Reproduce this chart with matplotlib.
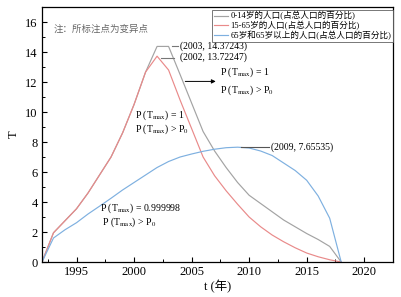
import matplotlib as mpl
import matplotlib.pyplot as plt
from matplotlib.ticker import MultipleLocator

mpl.rcParams.update(
    {
        "font.family": ["Liberation Serif", "Noto Sans CJK SC"],
        "mathtext.fontset": "stix",
        "font.size": 9,
        "xtick.direction": "in",
        "ytick.direction": "in",
        "axes.linewidth": 0.9,
    }
)

years = list(range(1992, 2019))
young = [0, 1.95, 2.75, 3.55, 4.6, 5.8, 7.0, 8.6, 10.5, 12.66, 14.37243, 14.37243,
         12.5, 10.6, 8.7, 7.4, 6.3, 5.3, 4.45, 3.9, 3.35, 2.8, 2.35, 1.9, 1.5, 1.04, 0]
working = [0, 1.95, 2.75, 3.55, 4.6, 5.8, 7.0, 8.6, 10.5, 12.66, 13.72247, 12.8,
           10.8, 8.9, 7.0, 5.75, 4.75, 3.85, 3.0, 2.35, 1.8, 1.35, 0.95, 0.6, 0.35, 0.15, 0]
elderly = [0, 1.6, 2.15, 2.62, 3.2, 3.72, 4.25, 4.8, 5.3, 5.8, 6.3, 6.7,
           7.0, 7.2, 7.38, 7.52, 7.62, 7.65535, 7.6, 7.4, 7.1, 6.6, 6.1, 5.45, 4.4, 2.92, 0]
labels = ["0-14岁的人口(占总人口的百分比)", "15-65岁的人口(占总人口的百分比)",
          "65岁和65岁以上的人口(占总人口的百分比)"]
colors = ["#a3a3a3", "#e98a8a", "#7eb0e0"]

fig = plt.figure(figsize=(4.01, 2.97), dpi=100)
ax = fig.add_axes([0.1047, 0.1178, 0.8753, 0.8586])

for series, color, label in zip([young, working, elderly], colors, labels):
    ax.plot(years, series, color=color, linewidth=0.85, label=label)

ax.set_xlim(1992, 2022.5)
ax.set_ylim(0, 17)
ax.xaxis.set_major_locator(MultipleLocator(5))
ax.xaxis.set_minor_locator(MultipleLocator(2.5))
ax.yaxis.set_major_locator(MultipleLocator(2))
ax.yaxis.set_minor_locator(MultipleLocator(1))
ax.tick_params(which="major", length=3.5, width=0.8, pad=3, labelsize=9)
ax.tick_params(which="minor", length=2, width=0.7)
ax.set_xlabel("t (年)", fontsize=9, labelpad=1)
ax.set_ylabel("T", fontsize=9, labelpad=4)

leg = ax.legend(loc="upper right", bbox_to_anchor=(1.0, 0.99), borderaxespad=0,
                fontsize=6.2, frameon=True, fancybox=False, handlelength=1.6,
                handletextpad=0.3, labelspacing=0.05, borderpad=0.2)
leg.get_frame().set_edgecolor("#555555")
leg.get_frame().set_linewidth(0.7)

ax.text(1993.0, 15.5, "注：所标注点为变异点", fontsize=6.8, color="#666666", va="center")

small = 7
ax.plot([2003.3, 2003.85], [14.37, 14.37], color="#777777", linewidth=0.8)
ax.text(2004.0, 14.37, "(2003, 14.37243)", fontsize=small, va="center")
ax.plot([2002.35, 2003.45], [13.63, 13.63], color="#777777", linewidth=0.8)
ax.text(2004.0, 13.63, "(2002, 13.72247)", fontsize=small, va="center")

ax.annotate("", xy=(2007.1, 12.04), xytext=(2004.45, 12.04),
            arrowprops=dict(arrowstyle="-|>", color="black", lw=0.7,
                            mutation_scale=6, shrinkA=0, shrinkB=0))
ax.text(2007.45, 12.04, "P (T$_{\\rm max}$) = 1\nP (T$_{\\rm max}$) > P$_0$",
        fontsize=small, va="center", linespacing=1.55)

ax.text(2000.1, 9.3, "P (T$_{\\rm max}$) = 1\nP (T$_{\\rm max}$) > P$_0$",
        fontsize=small, va="center", linespacing=1.05)

ax.text(1997.06, 3.1, "P (T$_{\\rm max}$) = 0.999998\n P (T$_{\\rm max}$) > P$_0$",
        fontsize=small, va="center", linespacing=1.1)

ax.plot([2009.3, 2011.7], [7.66, 7.66], color="#555555", linewidth=0.8)
ax.text(2011.9, 7.66, "(2009, 7.65535)", fontsize=small, va="center")

fig.savefig("out.png", dpi=100, facecolor="white")
